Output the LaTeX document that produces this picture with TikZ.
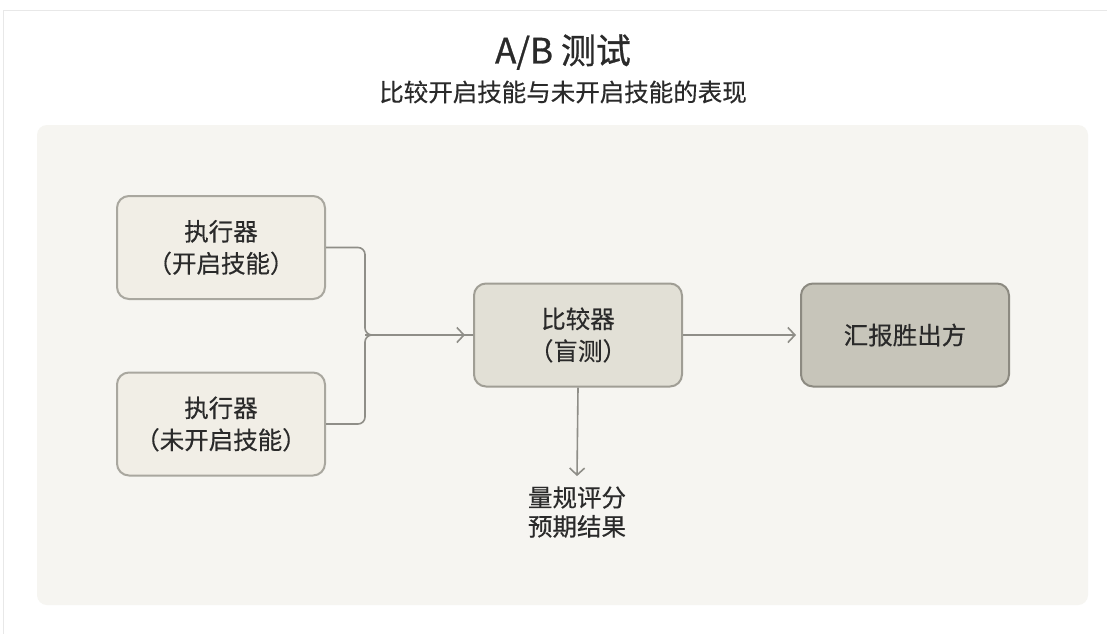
\documentclass[tikz,border=0pt]{standalone}
\usepackage{fontspec}
\newfontfamily\cjk[FakeBold=0.4]{Noto Sans CJK SC}
\newfontfamily\cjkt[FakeBold=0.8]{Noto Sans CJK SC}
\usetikzlibrary{arrows.meta}
\definecolor{panelbg}{HTML}{F6F5F1}
\definecolor{frameln}{HTML}{E8E8E8}
\definecolor{boxa}{HTML}{F1EEE6}
\definecolor{boxaln}{HTML}{A9A79F}
\definecolor{boxb}{HTML}{E2E0D6}
\definecolor{boxbln}{HTML}{A09E95}
\definecolor{boxc}{HTML}{C7C5BA}
\definecolor{boxcln}{HTML}{8C8A81}
\definecolor{conn}{HTML}{8F8E88}
\definecolor{txt}{HTML}{2A2A2A}
\tikzset{
  x=1pt, y=-1pt,
  card/.style={rounded corners=12pt, line width=2pt, minimum width=208pt, minimum height=103pt,
    inner sep=0pt, align=center, text=txt, font=\cjk\fontsize{24.5}{32}\selectfont},
  execbox/.style={card, fill=boxa, draw=boxaln},
  cmpbox/.style={card, fill=boxb, draw=boxbln},
  repbox/.style={card, fill=boxc, draw=boxcln},
  conline/.style={draw=conn, line width=1.6pt},
  conarrow/.style={conline, -{Straight Barb[length=7pt, width=15pt, line width=1.6pt]}},
  plain/.style={text=txt, align=center, inner sep=0pt}
}
\begin{document}
\begin{tikzpicture}
\useasboundingbox (0,0) rectangle (1107,633);
\fill[white] (0,0) rectangle (1107,633);
\draw[frameln, line width=1pt] (3,640) -- (3,10) -- (1110,10);
\fill[panelbg, rounded corners=10pt] (37,125) rectangle (1088,605);

\node[plain, font=\cjkt\fontsize{35}{40}\selectfont] (title) at (563,52) {A/B 测试};
\node[plain, font=\cjk\fontsize{24.5}{30}\selectfont] (sub) at (563,92) {比较开启技能与未开启技能的表现};

\node[execbox] (e1) at (221,247.5) {执行器\\（开启技能）};
\node[execbox] (e2) at (221,424) {执行器\\（未开启技能）};
\node[cmpbox] (cmp) at (578,335) {比较器\\（盲测）};
\node[repbox] (rep) at (905,335) {汇报胜出方};
\node[plain, font=\cjk\fontsize{24.5}{29}\selectfont] (res) at (577,512) {量规评分\\预期结果};

\coordinate (j) at (365,335);
\draw[conline, rounded corners=7pt] (e1.east) -- (e1.east -| j) -- (j) -- (cmp.west);
\draw[conline, rounded corners=7pt] (e2.east) -- (e2.east -| j) -- (j) -- (cmp.west);
\draw[conarrow] (j) -- ([xshift=-8pt]cmp.west);
\draw[conarrow] (cmp.east) -- ([xshift=-4pt]rep.west);
\draw[conarrow] (cmp.south) -- ([yshift=10pt]res.north);
\end{tikzpicture}
\end{document}
